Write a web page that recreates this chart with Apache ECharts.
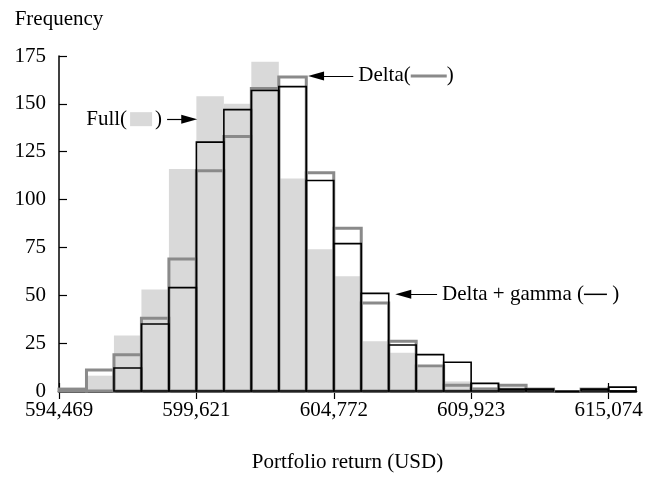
<!DOCTYPE html>
<html>
<head>
<meta charset="utf-8">
<script src="https://cdn.jsdelivr.net/npm/echarts@6/dist/echarts.min.js"></script>
<style>
  html, body { margin: 0; padding: 0; background: #fff; }
  #chart { width: 657px; height: 485px; }
</style>
</head>
<body>
<div id="chart"></div>
<script>
// Axis tick positions (USD) and their labels
const xTicks = [594469, 599621, 604772, 609923, 615074];
const xTickLabels = ['594,469', '599,621', '604,772', '609,923', '615,074'];
const yTicks = [0, 25, 50, 75, 100, 125, 150, 175];

// Histogram bins: 21 equal-width bins starting at the first tick
const binCount = 21;
const binWidth = (xTicks[4] - xTicks[0]) / 20;

// Frequencies per bin
const fullFreq       = [0, 8, 29, 53, 116, 154, 150, 172, 111, 74, 60, 26, 20, 12, 5, 2, 2, 0, 0, 1, 0];
const deltaFreq      = [1, 11, 19, 38, 69, 115, 133, 158, 164, 114, 85, 46, 26, 13, 3, 1, 3, 1, 0, 1, 0];
const deltaGammaFreq = [0, 0, 12, 35, 54, 130, 147, 157, 159, 110, 77, 51, 24, 19, 15, 4, 1, 1, 0, 1, 2];

// Callout arrows: [from, to] in data coordinates (USD, frequency)
const fullArrow  = [[598522, 142], [599352, 142]];
const deltaArrow = [[605503, 164.6], [604107, 164.6]];
const dgArrow    = [[608645, 50.5], [607376, 50.5]];

const FONT = '"Liberation Serif", "Times New Roman", serif';
const FS = 21;
const FULL_FILL = '#d9d9d9';
const DELTA_STROKE = '#8a8a8a';
const DG_STROKE = '#000000';

function binData(freq) {
  return freq.map((v, i) => [xTicks[0] + i * binWidth, v]);
}

function histRenderer(style) {
  return function (params, api) {
    const lo = api.value(0);
    const v = api.value(1);
    if (!(v > 0)) return null;
    const p0 = api.coord([lo, v]);
    const p1 = api.coord([lo + binWidth, 0]);
    return {
      type: 'rect',
      shape: { x: p0[0], y: p0[1], width: p1[0] - p0[0], height: p1[1] - p0[1] },
      style: style
    };
  };
}

function arrowLine(pts, label, labelRich) {
  return {
    silent: true,
    symbol: ['none', 'triangle'],
    symbolSize: [9, 16],
    lineStyle: { color: '#000', width: 1.2, type: 'solid' },
    label: {
      show: true,
      position: 'start',
      distance: 5,
      formatter: label,
      color: '#000',
      fontFamily: FONT,
      fontSize: FS,
      rich: labelRich
    },
    data: [[{ coord: pts[0] }, { coord: pts[1] }]]
  };
}

const textBase = { fontFamily: FONT, fontSize: FS, color: '#000' };

const chart = echarts.init(document.getElementById('chart'), null, { renderer: 'canvas' });
chart.setOption({
  animation: false,
  backgroundColor: '#fff',
  grid: { left: 59, top: 56, width: 577, height: 335, containLabel: false },
  xAxis: [
    {
      type: 'value',
      min: xTicks[0],
      max: xTicks[0] + binCount * binWidth,
      splitLine: { show: false },
      axisLine: { show: true, onZero: false, lineStyle: { color: '#000', width: 2.5 } },
      axisTick: { show: true, customValues: xTicks, length: 8, lineStyle: { color: '#000', width: 1.2 } },
      axisLabel: {
        show: true,
        customValues: xTicks,
        margin: 9,
        formatter: (v) => xTickLabels[xTicks.indexOf(v)] || '',
        ...textBase
      },
      name: 'Portfolio return (USD)',
      nameLocation: 'middle',
      nameGap: 61,
      nameTextStyle: textBase
    },
    {
      type: 'value',
      position: 'bottom',
      min: xTicks[0],
      max: xTicks[0] + binCount * binWidth,
      splitLine: { show: false },
      axisLine: { show: false },
      axisTick: { show: true, inside: true, customValues: xTicks, length: 8, lineStyle: { color: '#000', width: 1.2 } },
      axisLabel: { show: false }
    }
  ],
  yAxis: {
    type: 'value',
    min: 0,
    max: 175,
    interval: 25,
    splitLine: { show: false },
    axisLine: { show: true, lineStyle: { color: '#000', width: 1.5 } },
    axisTick: { show: true, inside: true, length: 8, lineStyle: { color: '#000', width: 1.2 } },
    axisLabel: { margin: 13, ...textBase },
    name: 'Frequency',
    nameLocation: 'end',
    nameGap: 26,
    nameTextStyle: { ...textBase, align: 'center' }
  },
  series: [
    {
      name: 'Full',
      type: 'custom',
      renderItem: histRenderer({ fill: FULL_FILL, stroke: null }),
      data: binData(fullFreq),
      z: 1,
      markLine: arrowLine(fullArrow, 'Full({sp|}{box|}{sp|})', {
        sp: { width: 3 },
        box: { width: 22, height: 14, backgroundColor: FULL_FILL }
      })
    },
    {
      name: 'Delta',
      type: 'custom',
      renderItem: histRenderer({ fill: 'none', stroke: DELTA_STROKE, lineWidth: 3 }),
      data: binData(deltaFreq),
      z: 2,
      markLine: arrowLine(deltaArrow, 'Delta({ln|})', {
        ln: { width: 36, height: 3, backgroundColor: DELTA_STROKE }
      })
    },
    {
      name: 'Delta + gamma',
      type: 'custom',
      renderItem: histRenderer({ fill: 'none', stroke: DG_STROKE, lineWidth: 1.6 }),
      data: binData(deltaGammaFreq),
      z: 3,
      markLine: arrowLine(dgArrow, 'Delta + gamma ({ln|} )', {
        ln: { width: 23, height: 1.5, backgroundColor: DG_STROKE }
      })
    }
  ]
});
</script>
</body>
</html>
